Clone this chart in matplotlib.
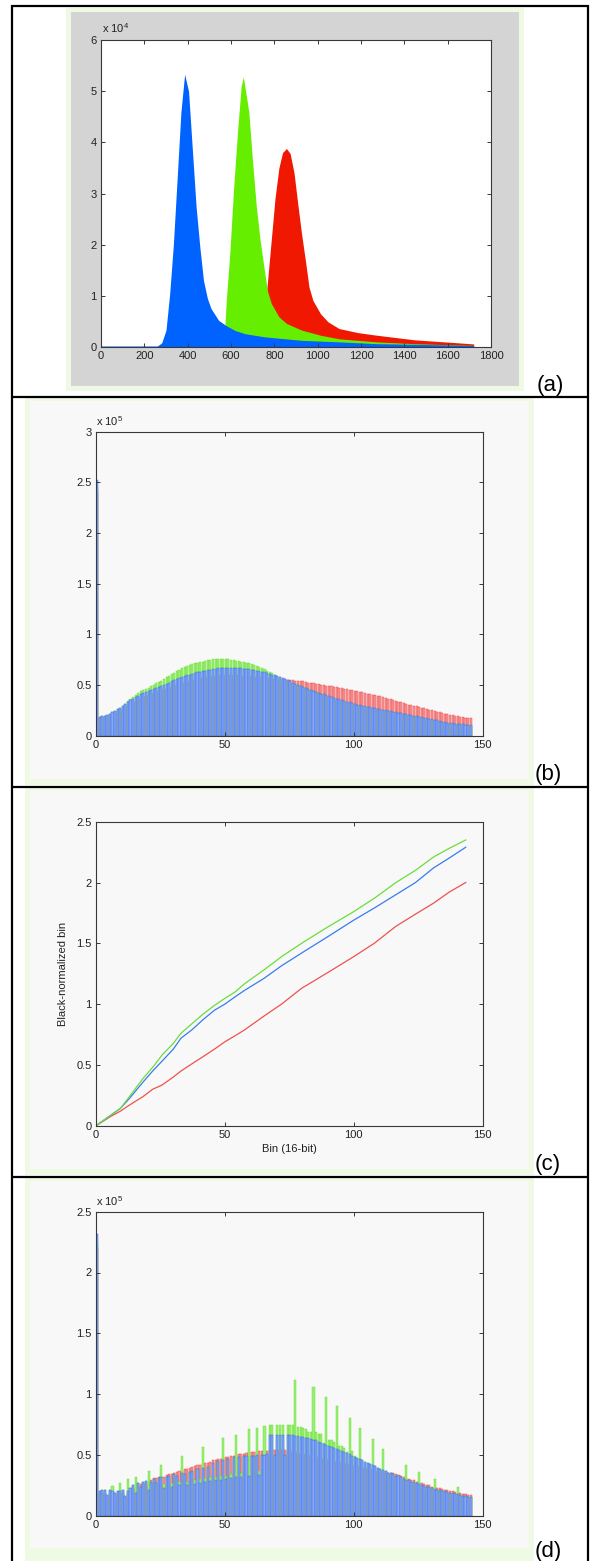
import matplotlib
matplotlib.use('Agg')
import numpy as np
import matplotlib.pyplot as plt
from matplotlib.patches import Rectangle
from matplotlib.lines import Line2D
from matplotlib.ticker import FuncFormatter, FixedLocator

plt.rcParams['font.family'] = ['Liberation Sans', 'DejaVu Sans']
plt.rcParams['mathtext.fontset'] = 'custom'
plt.rcParams['mathtext.rm'] = 'Liberation Sans'

# ---------------- data ----------------
# (a) raw histograms (counts), sampled along the bin axis
a_blue_x = [0, 260, 280, 300, 317, 334, 351, 369, 386, 404, 421, 439, 456, 473, 491, 508, 543, 577, 620, 665, 752, 926, 1099, 1273, 1447, 1600, 1720]
a_blue_y = [200, 200, 800, 3300, 10400, 20000, 32600, 46000, 53300, 50000, 39000, 27400, 19600, 13000, 9500, 7500, 5200, 4200, 3200, 2600, 2000, 1300, 1000, 650, 520, 400, 300]
a_green_x = [560, 572, 578, 594, 612, 630, 647, 657, 682, 699, 717, 734, 752, 768, 786, 821, 856, 926, 1013, 1099, 1273, 1447, 1600, 1720]
a_green_y = [0, 4300, 9000, 18000, 31000, 42000, 51000, 52800, 46000, 36500, 27400, 21000, 15600, 11000, 8500, 5900, 4600, 3300, 2300, 1600, 1000, 650, 450, 330]
a_red_x = [700, 730, 762, 786, 803, 821, 838, 856, 873, 891, 908, 926, 943, 960, 978, 1013, 1048, 1099, 1187, 1273, 1447, 1620, 1720]
a_red_y = [0, 3000, 9800, 21000, 29000, 35000, 38000, 38800, 37800, 34000, 28000, 22000, 17000, 11700, 9100, 6500, 4900, 3600, 2800, 2300, 1400, 900, 600]

# (b) binned histograms (thousands of counts), bins 0..145
bins = list(range(146))
b_blue = [252, 18.5, 19, 19.5, 20.5, 21.5, 23, 24.5, 26, 27.5,
          29, 31, 33, 35, 36.5, 38, 39.5, 41, 42, 43.5,
          44.5, 45.5, 46.5, 47.5, 48.5, 49.5, 50.5, 51.5, 52.5, 53.5,
          54.5, 55.5, 56.5, 57.5, 58.5, 59.5, 60, 61, 61.5, 62.5,
          63, 63.5, 64, 64.5, 65, 65.5, 66, 66.5, 66.5, 67,
          67, 67, 67, 67, 67, 66.5, 66.5, 66, 66, 65.5,
          65, 64.5, 64, 63.5, 63, 62.5, 61.5, 61, 60, 59.5,
          58.5, 57.5, 56.5, 55.5, 54.5, 53.5, 52.5, 51.5, 50.5, 49.5,
          48.5, 47.5, 46.5, 45.5, 44.5, 43.5, 42.5, 41.5, 41, 40,
          39, 38, 37.5, 36.5, 36, 35, 34.5, 33.5, 33, 32,
          31.5, 30.5, 30, 29.5, 29, 28.5, 28, 27.5, 27, 26.5,
          26, 25.5, 25, 24.5, 24, 23.5, 23, 22.5, 22, 21.5,
          21, 20.5, 20, 19.5, 19, 18.5, 18, 17.5, 17, 16.5,
          16, 15.5, 15, 14.5, 14, 13.5, 13, 12.5, 12.5, 12,
          12, 11.5, 11.5, 11, 11, 10.5]
b_green = [245, 18.5, 19, 19.5, 20.5, 21.5, 23, 24.5, 26, 27.5,
           29.5, 31.5, 34, 36, 38, 40, 42, 44.5, 45.5, 46.5,
           47.5, 49, 50.5, 52, 53, 54, 56, 57.5, 59, 60.5,
           62, 63.5, 65, 66.5, 68, 69, 70, 70.5, 71.5, 72,
           72.5, 73, 73.5, 74.5, 75, 75.5, 75.5, 76, 76, 76,
           75.5, 75.5, 75, 74.5, 74, 73.5, 73, 72.5, 72, 71.5,
           70.5, 69.5, 68.5, 67.5, 66.5, 65.5, 64, 63, 61.5, 60,
           59, 57.5, 56, 55, 54, 53, 52, 51, 50, 49,
           48, 47, 46, 45, 44, 43, 42, 41, 40.5, 39.5,
           38.5, 37.5, 37, 36, 35.5, 34.5, 34, 33, 32.5, 31.5,
           31, 30, 29.5, 29, 28.5, 28, 27.5, 27, 26.5, 26,
           25.5, 25, 24.5, 24, 23.5, 23, 22.5, 22, 21.5, 21,
           20.5, 20, 19.5, 19, 18.5, 18, 17.5, 17, 16.5, 16,
           15.5, 15, 14.5, 14, 13.5, 13, 12.5, 12, 12, 11.5,
           11.5, 11, 11, 10.5, 10.5, 10]
b_red = [240, 17, 17.5, 18, 19, 20, 21, 22.5, 24, 25,
         26.5, 28, 30, 31.5, 33, 34.5, 36, 37, 38, 39,
         40, 41, 42, 43, 44, 45, 46, 46.5, 47.5, 48.5,
         49, 50, 51, 52, 52.5, 53.5, 54, 55, 55.5, 56,
         56.5, 57, 57.5, 58, 58.5, 59, 59, 59.5, 59.5, 60,
         60, 60, 60, 59.5, 59.5, 59.5, 59, 59, 58.5, 58.5,
         58, 58, 57.5, 57.5, 57, 57, 56.5, 56.5, 56, 56,
         56, 56, 55.5, 55.5, 55, 55, 54.5, 54, 54, 53.5,
         53.5, 53, 52.5, 52, 52, 51.5, 51, 50.5, 50, 49.5,
         49, 49, 48.5, 48, 47.5, 47, 46.5, 46, 45.5, 45,
         44.5, 44, 43.5, 43, 42, 41.5, 41, 40.5, 40, 39.5,
         39, 38, 37.5, 36.5, 36, 35, 34.5, 33.5, 33, 32,
         31.5, 30.5, 30, 29.5, 29, 28, 27.5, 27, 26, 25.5,
         25, 24, 23.5, 23, 22, 21.5, 21, 20.5, 20, 19.5,
         19, 18.5, 18, 17.5, 17, 17]

# (c) black-normalized bin vs bin
c_x = [0, 3, 6, 9.5, 13, 18.3, 22, 25.6, 30, 33, 37.3, 41.7, 46, 50, 54, 57.8, 65.1, 72, 79.8, 90, 100, 108, 116.4, 124, 131, 137, 143.5]
c_green = [0, 0.045, 0.09, 0.143, 0.24, 0.39, 0.48, 0.58, 0.677, 0.76, 0.84, 0.92, 0.99, 1.047, 1.1, 1.17, 1.28, 1.39, 1.5, 1.635, 1.76, 1.87, 2.0, 2.1, 2.21, 2.28, 2.35]
c_blue = [0, 0.045, 0.09, 0.143, 0.225, 0.36, 0.45, 0.53, 0.63, 0.72, 0.79, 0.875, 0.95, 1.0, 1.06, 1.115, 1.21, 1.315, 1.42, 1.555, 1.69, 1.79, 1.9, 2.0, 2.12, 2.2, 2.29]
c_red = [0, 0.04, 0.08, 0.12, 0.17, 0.24, 0.3, 0.334, 0.4, 0.45, 0.51, 0.57, 0.63, 0.69, 0.74, 0.79, 0.9, 1.0, 1.13, 1.26, 1.39, 1.5, 1.64, 1.74, 1.83, 1.92, 2.0]

# (d) normalized histograms (thousands of counts), bins 0..145
d_blue = [232, 20, 21, 21, 17, 21, 20.5, 19, 20, 20.5,
          21, 16.5, 20.5, 22.5, 25, 19, 27, 24, 28, 28.5,
          21, 28, 30, 27, 31, 32, 23, 32, 33, 24,
          34, 33, 25, 35, 34, 25, 36, 37, 26, 38,
          27, 39, 28, 40, 28.5, 43, 29, 45, 29.5, 46,
          30, 47, 31, 48, 31.5, 48.5, 32, 49, 49, 33,
          49.5, 49.5, 50, 33.5, 50, 50, 50.5, 66, 66, 50,
          66, 66, 66, 50, 66, 66, 66, 65.5, 65.5, 65,
          64.5, 64, 63.5, 63, 62.5, 62, 61, 60, 59, 58,
          57.5, 56.5, 55.5, 55, 54, 53.5, 52.5, 51.5, 50.5, 49.5,
          48.5, 47.5, 46.5, 45.5, 44.5, 43.5, 42.5, 41.5, 40.5, 39.5,
          38.5, 37.5, 36.5, 35.5, 35, 34, 33, 32.5, 31.5, 30.5,
          29.5, 29, 28, 27.5, 26.5, 26, 25, 24.5, 24, 23.5,
          22.5, 22, 21.5, 21, 20.5, 20, 19.5, 19, 18.5, 18,
          17.5, 17, 16.5, 16, 15.5, 15.5]
d_green = [225, 20, 21, 21, 17, 21, 24.4, 19, 20, 26.6,
           21, 16.5, 30, 22.5, 25, 32, 27, 24, 28, 28.5,
           36.7, 28, 30, 27, 31, 42, 26, 32, 33, 27,
           34, 33, 28, 49, 34, 28, 36, 37, 29, 38,
           30, 56.7, 31, 40, 31.5, 43, 32, 45, 32.5, 64,
           33, 47, 34, 48, 66.3, 48.5, 35, 49, 49, 71,
           49.5, 49.5, 72, 36.5, 50, 73.7, 50.5, 74.5, 74.5, 49,
           74.5, 74.5, 74.5, 49, 75, 75, 75, 112, 73, 73,
           72, 71.5, 69, 69, 105.5, 68.5, 67, 67, 60, 97.3,
           62, 62, 61, 90, 57, 57, 56, 52, 80, 53,
           49, 47.5, 71.8, 45.5, 44.5, 43.5, 42.5, 63.3, 40.5, 39.5,
           38.5, 55, 36.5, 35.5, 35, 34, 33, 32.5, 31.5, 30.5,
           42, 29, 28, 27.5, 26.5, 36, 25, 24.5, 24, 23.5,
           22.5, 30, 21.5, 21, 20.5, 20, 19.5, 19, 18.5, 18,
           24, 17, 16.5, 16, 15.5, 15.5]
d_red = [220, 18, 19, 19, 15, 19, 18.5, 17, 18, 18.5,
         19, 15, 18.5, 20.5, 23, 21, 25, 26, 26, 26.5,
         24, 29, 31, 31, 32, 33, 32, 33.5, 34, 34,
         35, 36, 36.5, 37, 38, 38, 39, 40, 41, 41.5,
         42, 42.5, 43, 43.5, 44, 45.5, 46, 46.5, 47, 47.5,
         48, 48.5, 49, 49.5, 50, 50.5, 51, 51, 51.5, 52,
         52, 52.5, 52.5, 53, 53, 53.5, 53.5, 54, 55, 54,
         54, 54, 54, 54, 53, 53, 52, 52, 51.5, 51,
         51, 50.5, 50, 49.5, 49, 48.5, 48, 47.5, 47, 46.5,
         46, 45.5, 45, 44.5, 44, 43.5, 43, 42.5, 42, 41.5,
         41, 40.5, 40, 39.5, 39, 38.5, 38, 37.5, 37, 36.5,
         37, 36.5, 36, 35.5, 35, 35, 34, 33.5, 33, 32,
         31, 30.5, 29.5, 29, 28, 27.5, 26.5, 26, 25.5, 25,
         24, 23.5, 23, 22.5, 22, 21.5, 21, 20.5, 20, 19.5,
         19, 18.5, 18, 17.5, 17, 17]

# ---------------- figure ----------------
W, H = 591, 1561
fig = plt.figure(figsize=(W / 100, H / 100), dpi=100)
fig.patch.set_facecolor('white')


def rect(x0, y0, x1, y1, color):
    fig.patches.append(Rectangle((x0 / W, 1 - y1 / H), (x1 - x0) / W, (y1 - y0) / H,
                                 transform=fig.transFigure, facecolor=color,
                                 edgecolor='none', zorder=-10))


def axes_px(x0, y0, x1, y1):
    ax = fig.add_axes([x0 / W, 1 - y1 / H, (x1 - x0) / W, (y1 - y0) / H])
    ax.set_zorder(5)
    return ax


def hline(y, x0, x1):
    fig.add_artist(Line2D([x0 / W, x1 / W], [1 - y / H, 1 - y / H], color='black',
                          lw=1.6, transform=fig.transFigure, solid_capstyle='butt'))


def vline(x, y0, y1):
    fig.add_artist(Line2D([x / W, x / W], [1 - y0 / H, 1 - y1 / H], color='black',
                          lw=1.6, transform=fig.transFigure, solid_capstyle='butt'))


# panel backgrounds
GREEN_BORDER = '#eefae4'
rect(66, 8, 524, 391, GREEN_BORDER)
rect(71, 12, 519, 386, '#d4d4d4')
for top, bot, gbot in [(398, 779, 785), (788, 1169, 1175), (1178, 1548, 1561)]:
    rect(25, top, 534, gbot, GREEN_BORDER)
    rect(30, top + 3, 529, bot, '#f8f8f8')

# outer frame
vline(12, 5, 1561)
vline(588, 5, 1561)
hline(5.7, 11, 589)
for y in (397, 787, 1177):
    hline(y, 11, 589)


def style(ax, bg):
    ax.set_facecolor(bg)
    for s in ax.spines.values():
        s.set_color('#383838')
        s.set_linewidth(0.8)
        s.set_zorder(3)
    ax.tick_params(direction='in', length=3, width=0.7, colors='#383838',
                   labelcolor='#222222', labelsize=8, top=True, right=True, pad=3)


def scaled(div):
    return FuncFormatter(lambda v, p: ('%g' % round(v / div, 3)))


# ---- (a)
axa = axes_px(101, 40, 491, 347)
style(axa, 'white')
axa.fill_between(a_red_x, a_red_y, color='#f01800', lw=0)
axa.fill_between(a_green_x, a_green_y, color='#66ee00', lw=0)
axa.fill_between(a_blue_x, a_blue_y, color='#0062ff', lw=0)
axa.set_xlim(0, 1800)
axa.set_ylim(0, 60000)
axa.xaxis.set_major_locator(FixedLocator(range(0, 1801, 200)))
axa.yaxis.set_major_locator(FixedLocator(range(0, 60001, 10000)))
axa.yaxis.set_major_formatter(scaled(1e4))
fig.text(101.5 / W, 1 - 33 / H, r'x 10$^{4}$', fontsize=8, color='#222222', va='baseline')


def bar_panel(ax, red, green, blue, ymax, step):
    k = 1000.0
    kw = dict(width=0.8, align='edge', lw=0.3)
    ax.bar(bins, np.array(red) * k, color='#f49c9c', edgecolor='#f03a3a', **kw)
    ax.bar(bins, np.array(green) * k, color='#9cee78', edgecolor='#5fdc20', **kw)
    ax.bar(bins, np.array(blue) * k, color='#8aa7f2', edgecolor='#1f62f0', **kw)
    ax.set_xlim(0, 150)
    ax.set_ylim(0, ymax)
    ax.xaxis.set_major_locator(FixedLocator([0, 50, 100, 150]))
    ax.yaxis.set_major_locator(FixedLocator(np.arange(0, ymax + 1, step)))
    ax.yaxis.set_major_formatter(scaled(1e5))


# ---- (b)
axb = axes_px(96, 431.7, 482.5, 735.7)
style(axb, '#f8f8f8')
bar_panel(axb, b_red, b_green, b_blue, 300000, 50000)
fig.text(96.5 / W, 1 - 426 / H, r'x 10$^{5}$', fontsize=8, color='#222222', va='baseline')

# ---- (c)
axc = axes_px(96, 821.7, 482.5, 1125.7)
style(axc, '#f8f8f8')
axc.plot(c_x, c_red, color='#f05050', lw=0.9)
axc.plot(c_x, c_blue, color='#3a7af0', lw=0.9)
axc.plot(c_x, c_green, color='#6ade3a', lw=0.9)
axc.set_xlim(0, 150)
axc.set_ylim(0, 2.5)
axc.xaxis.set_major_locator(FixedLocator([0, 50, 100, 150]))
axc.yaxis.set_major_locator(FixedLocator([0, 0.5, 1, 1.5, 2, 2.5]))
axc.yaxis.set_major_formatter(FuncFormatter(lambda v, p: '%g' % v))
axc.set_xlabel('Bin (16-bit)', fontsize=8, color='#222222', labelpad=3)
axc.set_ylabel('Black-normalized bin', fontsize=8, color='#222222', labelpad=6)

# ---- (d)
axd = axes_px(96, 1211.7, 482.5, 1515.7)
style(axd, '#f8f8f8')
bar_panel(axd, d_red, d_green, d_blue, 250000, 50000)
fig.text(96.5 / W, 1 - 1206 / H, r'x 10$^{5}$', fontsize=8, color='#222222', va='baseline')

# panel letters
for lab, xx, yy in [('(a)', 537, 391.5), ('(b)', 535, 780), ('(c)', 535, 1170), ('(d)', 535, 1557.5)]:
    fig.text(xx / W, 1 - yy / H, lab, fontsize=16, color='black', va='baseline', ha='left')

fig.savefig('out.png', dpi=100)
